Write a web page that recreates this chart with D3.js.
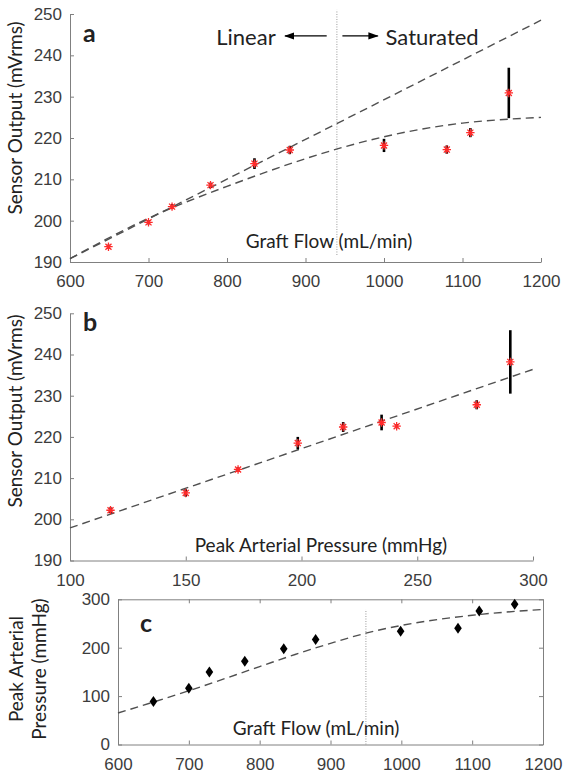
<!DOCTYPE html>
<html>
<head>
<meta charset="utf-8">
<script src="https://cdn.jsdelivr.net/npm/d3@7"></script>
<style>
  body { margin: 0; background: #fff; }
  .axis path, .axis line { stroke: #808080; stroke-width: 1; }
  .axis text { font-family: "Liberation Sans", Arial, sans-serif; font-size: 17px; fill: #3c3c3c; }
  .lbl { font-family: Lato, "Open Sans", sans-serif; fill: #222; }
</style>
</head>
<body>
<div id="chart"></div>
<script>
// panel a: sensor output vs graft flow
var flowA = [649, 700, 730, 779, 835, 880, 1000, 1080, 1110, 1159];
var sensorA = [193.7, 199.6, 203.4, 208.6, 213.8, 217.1, 218.2, 217.2, 221.3, 230.9];
var errA = [0.5, 0.5, 0.6, 0.6, 1.3, 1.0, 1.6, 1.0, 1.1, 6.1];
var linFitA = [{x: 600, y: 190.8}, {x: 1200, y: 248.5}];
var satFitA = [{x: 600, y: 190.8}, {x: 700, y: 200.6}, {x: 800, y: 208.3}, {x: 900, y: 215.0},
               {x: 1000, y: 220.3}, {x: 1100, y: 223.6}, {x: 1200, y: 225.0}];

// panel b: sensor output vs peak arterial pressure
var pressB = [117.5, 150, 172.6, 198.4, 218, 234.6, 241.1, 275.7, 290.2];
var sensorB = [202.2, 206.4, 212.1, 218.5, 222.4, 223.5, 222.6, 227.8, 238.2];
var errB = [0.7, 0.9, 0.5, 1.5, 1.2, 1.9, 0.5, 1.1, 7.7];
var fitB = [{x: 100, y: 197.9}, {x: 300, y: 236.4}];

// panel c: peak arterial pressure vs graft flow
var flowC = [650, 700, 729, 779, 834, 879, 999, 1080, 1110, 1160];
var pressC = [89, 116, 150, 172, 198, 217, 234, 240, 276, 290];
var fitC = [{x: 600, y: 65}, {x: 700, y: 111}, {x: 800, y: 161}, {x: 850, y: 186}, {x: 900, y: 209},
            {x: 950, y: 230}, {x: 1000, y: 246}, {x: 1100, y: 267}, {x: 1200, y: 279}];

var flowTicks = [600, 700, 800, 900, 1000, 1100, 1200];
var pressTicks = [100, 150, 200, 250, 300];
var sensorTicks = [190, 200, 210, 220, 230, 240, 250];
var pressYTicks = [0, 100, 200, 300];

var svg = d3.select("#chart").append("svg")
    .attr("width", 563)
    .attr("height", 775);

function asterisk(r) {
  var k = r * 0.72;
  return "M" + (-r) + ",0H" + r + "M0," + (-r) + "V" + r +
         "M" + (-k) + "," + (-k) + "L" + k + "," + k +
         "M" + (-k) + "," + k + "L" + k + "," + (-k);
}

var fmt = d3.format("d");

function axes(g, x, y, xt, yt, box) {
  g.append("g").attr("class", "axis")
    .attr("transform", "translate(0," + y.range()[0] + ")")
    .call(d3.axisBottom(x).tickValues(xt).tickFormat(fmt).tickSizeInner(-4).tickSizeOuter(0).tickPadding(13));
  g.append("g").attr("class", "axis")
    .attr("transform", "translate(" + x.range()[0] + ",0)")
    .call(d3.axisLeft(y).tickValues(yt).tickFormat(fmt).tickSizeInner(-4).tickSizeOuter(0).tickPadding(8));
  if (box) {
    g.append("g").attr("class", "axis")
      .attr("transform", "translate(0," + y.range()[1] + ")")
      .call(d3.axisTop(x).tickValues(xt).tickSizeInner(-4).tickSizeOuter(0).tickFormat(""));
    g.append("g").attr("class", "axis")
      .attr("transform", "translate(" + x.range()[1] + ",0)")
      .call(d3.axisRight(y).tickValues(yt).tickSizeInner(-4).tickSizeOuter(0).tickFormat(""));
  }
}

function dashed(g, x, y, pts, curve) {
  g.append("path")
    .datum(pts)
    .attr("fill", "none")
    .attr("stroke", "#505050")
    .attr("stroke-width", 1.4)
    .attr("stroke-dasharray", "8,5")
    .attr("d", d3.line().curve(curve || d3.curveLinear)
      .x(function(d) { return x(d.x); })
      .y(function(d) { return y(d.y); }));
}

function starPoints(g, x, y, xs, ys, es) {
  var pts = xs.map(function(v, i) { return {x: v, y: ys[i], e: es[i]}; });
  g.selectAll(".eb").data(pts).enter().append("line")
    .attr("x1", function(d) { return x(d.x); })
    .attr("x2", function(d) { return x(d.x); })
    .attr("y1", function(d) { return y(d.y - d.e); })
    .attr("y2", function(d) { return y(d.y + d.e); })
    .attr("stroke", "#000")
    .attr("stroke-width", 2.6);
  g.selectAll(".st").data(pts).enter().append("path")
    .attr("transform", function(d) { return "translate(" + x(d.x) + "," + y(d.y) + ")"; })
    .attr("d", asterisk(4.2))
    .attr("fill", "none")
    .attr("stroke", "#ff2a2a")
    .attr("stroke-width", 1.3);
}

function vline(g, x, y, xv, y0, y1) {
  g.append("line")
    .attr("x1", x(xv)).attr("x2", x(xv))
    .attr("y1", y(y0)).attr("y2", y(y1))
    .attr("stroke", "#9a9a9a")
    .attr("stroke-width", 1)
    .attr("stroke-dasharray", "1,1.5");
}

function letter(g, px, py, t) {
  g.append("text").attr("class", "lbl")
    .attr("x", px).attr("y", py)
    .style("font-size", "25px").style("font-weight", "bold")
    .text(t);
}

function ylabel(g, cx, cy, t) {
  g.append("text").attr("class", "lbl")
    .attr("transform", "translate(" + cx + "," + cy + ") rotate(-90)")
    .attr("text-anchor", "middle")
    .style("font-size", "19px")
    .text(t);
}

svg.append("defs").append("marker")
    .attr("id", "head")
    .attr("viewBox", "0 0 10 10")
    .attr("refX", 9).attr("refY", 5)
    .attr("markerWidth", 8).attr("markerHeight", 8)
    .attr("orient", "auto")
  .append("path")
    .attr("d", "M0,1.5L10,5L0,8.5Z")
    .attr("fill", "#000");

// ---------- panel a ----------
var xa = d3.scaleLinear().domain([600, 1200]).range([70, 541]);
var ya = d3.scaleLinear().domain([190, 250]).range([262, 14]);
var ga = svg.append("g");
axes(ga, xa, ya, flowTicks, sensorTicks, false);
vline(ga, xa, ya, 940, 191.7, 251);
dashed(ga, xa, ya, linFitA);
dashed(ga, xa, ya, satFitA, d3.curveNatural);
starPoints(ga, xa, ya, flowA, sensorA, errA);
letter(ga, 83, 42, "a");
ga.append("text").attr("class", "lbl")
  .attr("x", xa(862)).attr("y", ya(242.5))
  .attr("text-anchor", "end").style("font-size", "22px").text("Linear");
ga.append("text").attr("class", "lbl")
  .attr("x", xa(1002)).attr("y", ya(242.5))
  .style("font-size", "22px").text("Saturated");
ga.append("line")
  .attr("x1", xa(927)).attr("x2", xa(874))
  .attr("y1", ya(244.7)).attr("y2", ya(244.7))
  .attr("stroke", "#000").attr("stroke-width", 1.3).attr("marker-end", "url(#head)");
ga.append("line")
  .attr("x1", xa(947)).attr("x2", xa(992))
  .attr("y1", ya(244.7)).attr("y2", ya(244.7))
  .attr("stroke", "#000").attr("stroke-width", 1.3).attr("marker-end", "url(#head)");
ga.append("text").attr("class", "lbl")
  .attr("x", xa(930)).attr("y", ya(193.4))
  .attr("text-anchor", "middle").style("font-size", "19px").text("Graft Flow (mL/min)");
ylabel(ga, 22, 118, "Sensor Output (mVrms)");

// ---------- panel b ----------
var xb = d3.scaleLinear().domain([100, 300]).range([70, 533]);
var yb = d3.scaleLinear().domain([190, 250]).range([560.5, 313.3]);
var gb = svg.append("g");
axes(gb, xb, yb, pressTicks, sensorTicks, false);
dashed(gb, xb, yb, fitB);
starPoints(gb, xb, yb, pressB, sensorB, errB);
letter(gb, 83, 331, "b");
gb.append("text").attr("class", "lbl")
  .attr("x", xb(208.4)).attr("y", yb(192.1))
  .attr("text-anchor", "middle").style("font-size", "19px").text("Peak Arterial Pressure (mmHg)");
ylabel(gb, 22, 411, "Sensor Output (mVrms)");

// ---------- panel c ----------
var xc = d3.scaleLinear().domain([600, 1200]).range([118, 543]);
var yc = d3.scaleLinear().domain([0, 300]).range([744.5, 599.3]);
var gc = svg.append("g");
axes(gc, xc, yc, flowTicks, pressYTicks, true);
vline(gc, xc, yc, 950, 0, 279);
dashed(gc, xc, yc, fitC, d3.curveMonotoneX);
gc.selectAll(".dm").data(flowC.map(function(v, i) { return {x: v, y: pressC[i]}; }))
  .enter().append("path")
  .attr("transform", function(d) { return "translate(" + xc(d.x) + "," + yc(d.y) + ")"; })
  .attr("d", "M0,-5.5L3.8,0L0,5.5L-3.8,0Z")
  .attr("fill", "#000");
letter(gc, 140, 632, "c");
gc.append("text").attr("class", "lbl")
  .attr("x", xc(879.6)).attr("y", yc(19.6))
  .attr("text-anchor", "middle").style("font-size", "19px").text("Graft Flow (mL/min)");
ylabel(gc, 23, 669, "Peak Arterial");
ylabel(gc, 46, 669, "Pressure (mmHg)");
</script>
</body>
</html>
